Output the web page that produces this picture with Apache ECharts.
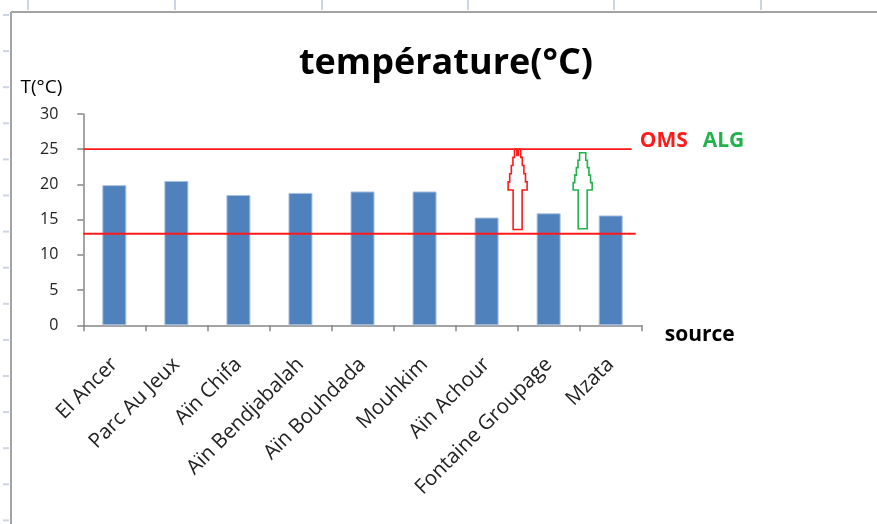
<!DOCTYPE html>
<html>
<head>
<meta charset="utf-8">
<script src="https://cdn.jsdelivr.net/npm/echarts@6/dist/echarts.min.js"></script>
<style>
html,body{margin:0;padding:0;background:#fff;}
#c{width:877px;height:524px;}
</style>
</head>
<body>
<div id="c"></div>
<script>
// ---- data ----
const categories = ["El Ancer", "Parc Au Jeux", "Aïn Chifa", "Aïn Bendjabalah", "Aïn Bouhdada", "Mouhkim", "Aïn Achour", "Fontaine Groupage", "Mzata"];
const temperatures = [19.9, 20.5, 18.5, 18.8, 19.0, 19.0, 15.3, 15.9, 15.6];
const yTicks = [0, 5, 10, 15, 20, 25, 30];
const limitOMS = 25;     // upper guideline
const limitLow = 13;     // lower guideline
const arrowOMS = { from: 13.6, to: 25.0 };
const arrowALG = { from: 13.7, to: 24.5 };

const FONT = '"Open Sans"';
const chart = echarts.init(document.getElementById('c'), null, { renderer: 'canvas' });

chart.setOption({
  animation: false,
  backgroundColor: '#ffffff',
  title: {
    text: 'température(°C)',
    left: 441,
    textAlign: 'center',
    top: 41,
    textStyle: { fontFamily: FONT, fontSize: 36, fontWeight: 'bold', color: '#000' }
  },
  grid: { left: 83.3, right: 235.3, top: 114, bottom: 198.7, containLabel: false },
  xAxis: {
    type: 'category',
    data: categories,
    name: 'source',
    nameLocation: 'end',
    nameGap: 23,
    nameTextStyle: { fontFamily: FONT, fontSize: 21, fontWeight: 'bold', color: '#000', align: 'left', verticalAlign: 'top', padding: [-1, 0, 0, 0] },
    axisLine: { lineStyle: { color: '#868686', width: 1.5 } },
    axisTick: { show: true, length: 6, alignWithLabel: false, lineStyle: { color: '#868686', width: 1.5 } },
    axisLabel: { rotate: 45, margin: 36, fontFamily: FONT, fontSize: 20.5, color: '#222', interval: 0 },
    splitLine: { show: false }
  },
  yAxis: {
    type: 'value',
    min: yTicks[0],
    max: yTicks[yTicks.length - 1],
    interval: yTicks[1] - yTicks[0],
    name: 'T(°C)',
    nameLocation: 'end',
    nameGap: 26,
    nameTextStyle: { fontFamily: FONT, fontSize: 19, color: '#000', align: 'right', verticalAlign: 'middle', padding: [0, 21, 0, 0] },
    axisLine: { show: true, lineStyle: { color: '#868686', width: 1.5 } },
    axisTick: { show: true, length: 6, lineStyle: { color: '#868686', width: 1.5 } },
    axisLabel: { margin: 25, fontFamily: FONT, fontSize: 16, color: '#222' },
    splitLine: { show: false }
  },
  series: [{
    type: 'bar',
    data: temperatures,
    barWidth: 24,
    itemStyle: { color: '#4F81BD', borderColor: '#a9c0df', borderWidth: 1 }
  }]
});

// ---- annotations positioned through the axes ----
function px(cat, val) { return chart.convertToPixel({ gridIndex: 0 }, [cat, val]); }
const c0 = px(0, 0), c1 = px(1, 0);
const band = c1[0] - c0[0];
const xLeft = c0[0] - band / 2;
const lastC = px(categories.length - 1, 0)[0];
const yOMS = px(0, limitOMS)[1];
const yLow = px(0, limitLow)[1];

function arrowShape(cx, yBase, yTip, wingY, color) {
  const shaftHW = 4.5, wingHW = 9.5, tipHW = 1.5, steps = 5;
  const pts = [[cx - shaftHW, yBase], [cx - shaftHW, wingY]];
  const left = [];
  for (let i = 0; i < steps; i++) {
    const hw = wingHW - (wingHW - tipHW) * i / steps;
    const yA = wingY - (wingY - yTip) * i / steps;
    const yB = wingY - (wingY - yTip) * (i + 1) / steps;
    left.push([cx - hw, yA], [cx - hw, yB]);
  }
  left.push([cx - tipHW, yTip]);
  const rightSide = left.map(p => [2 * cx - p[0], p[1]]).reverse();
  const all = pts.concat(left, rightSide, [[cx + shaftHW, wingY], [cx + shaftHW, yBase]]);
  return {
    type: 'polygon',
    shape: { points: all },
    style: { fill: '#fff', stroke: color, lineWidth: 1.6 },
    z: 10
  };
}

const red = '#ff1a1a', green = '#22b24c';
const xRed = c0[0] + band * 6.5;
const xGreen = c0[0] + band * 7.5 + 3;
const wingVal = 19.2;
const elements = [
  // excel-like chart frame
  { type: 'line', shape: { x1: 11, y1: 12, x2: 877, y2: 12 }, style: { stroke: '#a3a3a3', lineWidth: 2 }, z: 1 },
  { type: 'line', shape: { x1: 11, y1: 12, x2: 11, y2: 524 }, style: { stroke: '#a3a3a3', lineWidth: 2 }, z: 1 },
  // guide lines
  { type: 'line', shape: { x1: xLeft, y1: yOMS, x2: lastC + 21, y2: yOMS }, style: { stroke: red, lineWidth: 1.8 }, z: 5 },
  { type: 'line', shape: { x1: xLeft, y1: yLow, x2: lastC + 25, y2: yLow }, style: { stroke: red, lineWidth: 1.8 }, z: 5 },
  { type: 'rect', shape: { x: xRed - 1.5, y: yOMS, width: 3, height: 7 }, style: { fill: red }, z: 11 },
  arrowShape(xRed, px(0, arrowOMS.from)[1], px(0, arrowOMS.to)[1], px(0, wingVal)[1], red),
  arrowShape(xGreen, px(0, arrowALG.from)[1], px(0, arrowALG.to)[1], px(0, wingVal)[1], green),
  { type: 'text', x: lastC + 29, y: yOMS - 8, style: { text: 'OMS', fill: red, font: 'bold 21px ' + FONT, textVerticalAlign: 'middle' }, z: 10 },
  { type: 'text', x: lastC + 92, y: yOMS - 8, style: { text: 'ALG', fill: green, font: 'bold 21px ' + FONT, textVerticalAlign: 'middle' }, z: 10 }
];
// spreadsheet grid ticks behind the chart
[28, 175, 322, 468, 614, 761].forEach(x => elements.push({ type: 'line', shape: { x1: x, y1: 0, x2: x, y2: 10 }, style: { stroke: '#cdd5e2', lineWidth: 2 }, z: 0 }));
for (let y = 15; y < 524; y += 36.1) elements.push({ type: 'line', shape: { x1: 3, y1: y, x2: 9, y2: y }, style: { stroke: '#cdd5e2', lineWidth: 2 }, z: 0 });

chart.setOption({ graphic: { elements } });
</script>
</body>
</html>
